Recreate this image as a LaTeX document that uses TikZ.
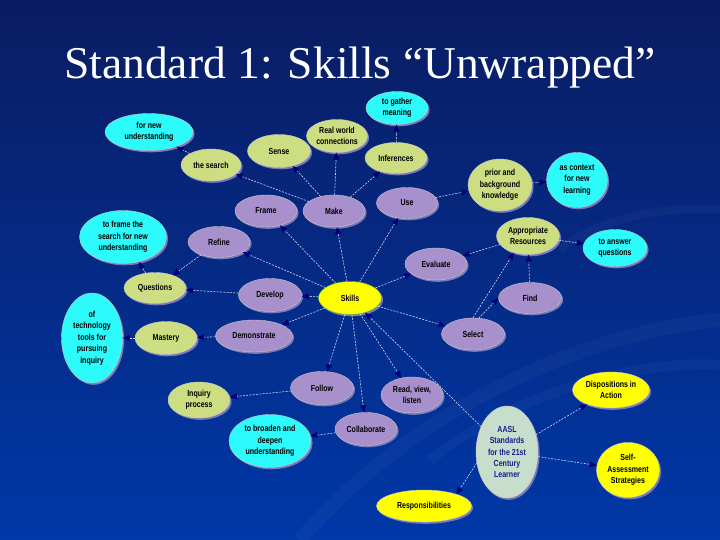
\documentclass[tikz,border=0pt]{standalone}
\usepackage{fontspec}
\setmainfont{Liberation Serif}
\newfontfamily\nodefont[FakeStretch=0.8]{Liberation Sans}
\usetikzlibrary{shapes.geometric,arrows.meta,shadows}
\definecolor{bgtop}{RGB}{10,28,98}
\definecolor{bgbot}{RGB}{0,56,168}
\definecolor{cyanfill}{RGB}{45,250,250}
\definecolor{greenfill}{RGB}{205,222,130}
\definecolor{purplefill}{RGB}{168,144,204}
\definecolor{yellowfill}{RGB}{255,255,0}
\definecolor{aaslfill}{RGB}{200,222,204}
\definecolor{navytip}{RGB}{0,0,120}
\definecolor{aasltext}{RGB}{20,30,140}
\definecolor{linecol}{RGB}{215,230,250}
\tikzset{
  bub/.style={ellipse, inner sep=0pt, align=center,
    font=\nodefont\bfseries\fontsize{8.8}{11.4}\selectfont,
    draw=gray!45, line width=0.4pt,
    drop shadow={shadow xshift=1.6pt, shadow yshift=-1.8pt, fill=gray!70!blue!80!white, opacity=1}},
  cy/.style={bub, fill=cyanfill},
  gr/.style={bub, fill=greenfill},
  pu/.style={bub, fill=purplefill},
  ye/.style={bub, fill=yellowfill},
  conn/.style={draw=linecol, line width=0.55pt, dash pattern=on 2pt off 1.3pt,
    -{Triangle[length=7pt,width=6pt,color=navytip]}},
}
\begin{document}
\begin{tikzpicture}[x=1pt,y=-1pt]
\shade[top color=bgtop, bottom color=bgbot] (0,0) rectangle (720,540);
\useasboundingbox (0,0) rectangle (720,540);
% faint swooshes
\draw[white, opacity=0.03, line width=14pt] (300,540) .. controls (420,400) and (600,330) .. (720,320);
\draw[white, opacity=0.03, line width=10pt] (430,460) .. controls (520,390) and (640,360) .. (720,365);
\draw[white, opacity=0.03, line width=8pt] (560,250) .. controls (600,215) and (680,205) .. (720,210);

\node[text=white, font=\fontsize{45.5}{48}\selectfont] (title) at (360,68) {Standard 1: Skills “Unwrapped”};

% nodes
\node[cy, minimum width=88pt, minimum height=37pt] (fnu) at (149,132) {for new\\understanding};
\node[gr, minimum width=60pt, minimum height=32pt] (search) at (211,165) {the search};
\node[gr, minimum width=63pt, minimum height=33pt] (sense) at (279,151) {Sense};
\node[gr, minimum width=61pt, minimum height=33pt] (rwc) at (337,136) {Real world\\connections};
\node[cy, minimum width=62pt, minimum height=33pt] (gather) at (397,108) {to gather\\meaning};
\node[gr, minimum width=62pt, minimum height=31pt] (infer) at (396,158) {Inferences};
\node[pu, minimum width=62pt, minimum height=32pt] (frame) at (266,211) {Frame};
\node[pu, minimum width=62pt, minimum height=32pt] (make) at (334,211) {Make};
\node[pu, minimum width=61pt, minimum height=31pt] (use) at (407,203) {Use};
\node[gr, minimum width=64pt, minimum height=52pt] (prior) at (500,185) {prior and\\background\\knowledge};
\node[cy, minimum width=61pt, minimum height=55pt] (context) at (577,180) {as context\\for new\\learning};
\node[gr, minimum width=63pt, minimum height=37pt] (ar) at (528,236) {Appropriate\\Resources};
\node[cy, minimum width=64pt, minimum height=37pt] (answer) at (615,248) {to answer\\questions};
\node[pu, minimum width=62pt, minimum height=32pt] (evaluate) at (436,264) {Evaluate};
\node[pu, minimum width=63pt, minimum height=31pt] (find) at (530,298) {Find};
\node[pu, minimum width=63pt, minimum height=32pt] (select) at (473,334) {Select};
\node[ye, draw=green!50!gray, minimum width=63pt, minimum height=33pt] (skills) at (350,298) {Skills};
\node[pu, minimum width=62pt, minimum height=31pt] (refine) at (219,242) {Refine};
\node[cy, minimum width=87pt, minimum height=53pt] (tframe) at (123,237) {to frame the\\search for new\\understanding};
\node[gr, minimum width=62pt, minimum height=31pt] (questions) at (155,288) {Questions};
\node[pu, minimum width=63pt, minimum height=33pt] (develop) at (270,295) {Develop};
\node[cy, minimum width=61pt, minimum height=90pt] (tech) at (92,338) {of\\technology\\tools for\\pursuing\\inquiry};
\node[gr, minimum width=62pt, minimum height=33pt] (mastery) at (166,338) {Mastery};
\node[pu, minimum width=77pt, minimum height=32pt] (demo) at (254,336) {Demonstrate};
\node[gr, minimum width=62pt, minimum height=36pt] (inquiry) at (199,400) {Inquiry\\process};
\node[pu, minimum width=63pt, minimum height=33pt] (follow) at (322,388) {Follow};
\node[pu, minimum width=62pt, minimum height=36pt] (read) at (412,395) {Read, view,\\listen};
\node[cy, minimum width=82pt, minimum height=53pt] (broaden) at (270,441) {to broaden and\\deepen\\understanding};
\node[pu, minimum width=62pt, minimum height=33pt] (collab) at (366,429) {Collaborate};
\node[ye, minimum width=95pt, minimum height=32pt] (resp) at (424,506) {Responsibilities};
\node[bub, fill=aaslfill, text=aasltext, minimum width=62pt, minimum height=92pt] (aasl) at (507,452) {AASL\\Standards\\for the 21st\\Century\\Learner};
\node[ye, minimum width=77pt, minimum height=36pt] (disp) at (611,390) {Dispositions in\\Action};
\node[ye, minimum width=63pt, minimum height=55pt] (sa) at (628,470) {Self-\\Assessment\\Strategies};

% connectors
\foreach \t in {frame,make,use,refine,develop,demo,follow,collab,read,select,evaluate}
  \draw[conn] (skills) -- (\t);
\draw[conn] (aasl) -- (skills);
\draw[conn] (aasl.200) -- (resp.20);
\draw[conn] (aasl) -- (disp);
\draw[conn] (aasl) -- (sa);
\draw[conn] (make) -- (sense);
\draw[conn] (make) -- (rwc);
\draw[conn] (make) -- (infer);
\draw[conn] (make) -- (search);
\draw[conn] (search) -- (fnu);
\draw[conn] (infer) -- (gather);
\draw[conn] (use) -- (prior);
\draw[conn] (prior) -- (context);
\draw[conn] (ar) -- (answer);
\draw[conn] (ar) -- (evaluate);
\draw[conn] (select.north) -- (ar.230);
\draw[conn] (find) -- (ar);
\draw[conn] (select.70) -- (find.west);
\draw[conn] (refine) -- (questions);
\draw[conn] (develop) -- (questions);
\draw[conn] (questions) -- (tframe);
\draw[conn] (demo) -- (mastery);
\draw[conn] (mastery) -- (tech);
\draw[conn] (follow) -- (inquiry);
\draw[conn] (collab) -- (broaden);
\end{tikzpicture}
\end{document}
